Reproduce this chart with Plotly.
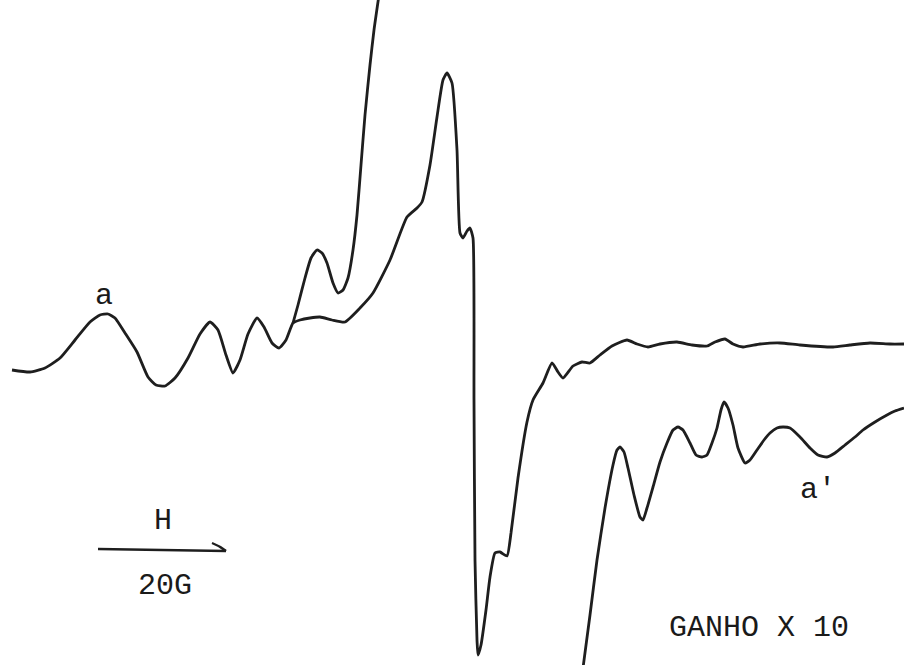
import plotly.graph_objects as go

# Field position (chart units, left->right) and recorder deflection (chart units, top->bottom)
main_x = [12, 30, 45, 60, 75, 90, 100, 108, 115, 125, 137, 148, 156, 165, 175, 188, 200, 210, 218, 226,
          233, 240, 248, 257, 264, 272, 279, 286, 293, 300, 310, 320, 332, 345, 360, 373, 390, 407, 417,
          422, 430, 437, 443, 447, 452, 457, 460, 463, 467, 470, 473, 474, 475, 477, 478, 481, 486, 490,
          495, 500, 507, 511, 518, 527, 533, 543, 552, 558, 563, 573, 582, 590, 600, 612, 627, 637, 648,
          660, 677, 692, 707, 715, 725, 733, 743, 760, 780, 800, 833, 850, 870, 890, 904]
main_y = [370, 372, 368, 358, 340, 322, 315, 314, 318, 333, 352, 377, 385, 386, 378, 358, 334, 322, 330, 355,
          373, 360, 334, 318, 327, 343, 348, 340, 323, 320, 318, 317, 320, 322, 308, 293, 260, 217, 208,
          202, 165, 117, 80, 73, 83, 150, 233, 238, 231, 228, 238, 400, 560, 640, 655, 645, 610, 577,
          553, 552, 556, 533, 478, 422, 400, 383, 363, 372, 378, 366, 362, 363, 355, 346, 340, 344, 347,
          344, 342, 345, 346, 342, 339, 344, 347, 344, 343, 345, 347, 345, 343, 344, 344]

# Gain x10 trace, low-field part
gain_left_x = [293, 298, 305, 311, 317, 322, 327, 333, 338, 343, 348, 353, 357, 361, 365, 370, 374, 379]
gain_left_y = [323, 305, 278, 258, 250, 253, 263, 283, 293, 290, 278, 250, 215, 165, 115, 65, 30, -5]

# Gain x10 trace, high-field part
gain_right_x = [583, 590, 597, 605, 613, 617, 620, 624, 628, 634, 640, 643, 647, 653, 660, 667, 673, 678,
                683, 690, 696, 702, 707, 712, 717, 721, 724, 728, 733, 738, 745, 750, 757, 764, 770, 777,
                783, 790, 800, 810, 818, 827, 835, 845, 855, 863, 875, 887, 895, 904]
gain_right_y = [668, 615, 560, 508, 465, 450, 447, 452, 468, 495, 517, 520, 508, 487, 462, 443, 430, 427,
                430, 443, 455, 457, 455, 443, 428, 410, 402, 408, 425, 448, 463, 460, 450, 440, 433, 428,
                427, 428, 437, 448, 455, 457, 453, 445, 437, 430, 422, 415, 411, 408]

LINE = dict(color="#1e1e1e", width=2.8, shape="spline", smoothing=0.5)

fig = go.Figure()
for xs, ys in [(main_x, main_y), (gain_left_x, gain_left_y), (gain_right_x, gain_right_y)]:
    fig.add_trace(go.Scatter(x=xs, y=ys, mode="lines", line=LINE, hoverinfo="skip", showlegend=False))

FONT = dict(family="Liberation Mono, Courier New, monospace", size=30, color="#1a1a1a")

def label(text, x, y, size=30):
    f = dict(FONT)
    f["size"] = size
    fig.add_annotation(x=x, y=y, text=text, showarrow=False, font=f, xanchor="center", yanchor="middle")

label("a", 104, 296)
label("a'", 818, 490)
label("H", 163, 521)
label("20G", 165, 586)
label("GANHO X 10", 759, 628)

# field-direction arrow (half barb)
fig.add_shape(type="line", x0=98, y0=549, x1=226, y1=551, line=dict(color="#1e1e1e", width=2.4))
fig.add_shape(type="path", path="M 212 543 Q 220 546 226 551", line=dict(color="#1e1e1e", width=2.4))

fig.update_xaxes(range=[0, 904], visible=False, fixedrange=True)
fig.update_yaxes(range=[665, 0], visible=False, fixedrange=True)
fig.update_layout(width=904, height=665, margin=dict(l=0, r=0, t=0, b=0),
                  plot_bgcolor="white", paper_bgcolor="white")

fig.write_html("out.html", config={"responsive": False, "displayModeBar": False},
               post_script="document.body.style.margin='0';document.body.style.overflow='hidden';")
